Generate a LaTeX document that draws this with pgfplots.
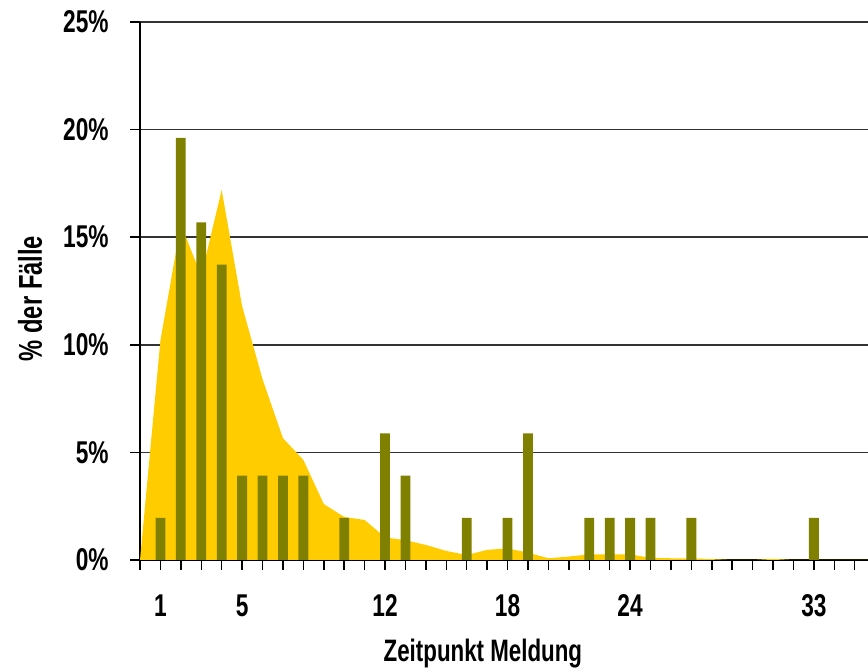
\documentclass[border=0pt]{standalone}
\usepackage{fontspec}
\setmainfont{Liberation Sans}[FakeStretch=0.72]
\usepackage{pgfplots}
\pgfplotsset{compat=1.18}
\definecolor{areayellow}{RGB}{255,204,0}
\definecolor{barolive}{RGB}{128,128,0}
\begin{document}
\begin{tikzpicture}
\useasboundingbox (-70pt,-56pt) rectangle (364pt,280pt);
\begin{axis}[
  at={(0,0)}, anchor=south west,
  scale only axis, width=364pt, height=269pt,
  xmin=0, xmax=35.65, ymin=0, ymax=25,
  axis lines*=left,
  axis line style={black, line width=1pt},
  xtick={1,5,12,18,24,33},
  xticklabels={1,5,12,18,24,33},
  minor xtick={0,...,35},
  ytick={0,5,10,15,20,25},
  yticklabels={0\%,5\%,10\%,15\%,20\%,25\%},
  tick align=outside,
  major tick length=5pt, minor tick length=5pt,
  every tick/.style={black, line width=0.75pt},
  ymajorgrids,
  major grid style={black!80, line width=0.75pt},
  tick label style={font=\bfseries\fontsize{15.75}{16}\selectfont},
  yticklabel style={anchor=east, inner sep=0pt, xshift=-10.5pt},
  xticklabel style={anchor=north, inner sep=0pt, yshift=-12pt},
  xlabel={Zeitpunkt Meldung},
  ylabel={\% der Fälle},
  xlabel style={font=\bfseries\fontsize{15.5}{16}\selectfont, at={([yshift=-47pt]rel axis cs:0.471,0)}, anchor=center},
  ylabel style={font=\bfseries\fontsize{16.5}{17}\selectfont, at={([xshift=-55pt]rel axis cs:0,0.486)}, anchor=center},
  clip=false,
]
\addplot[fill=areayellow, draw=none] coordinates {
 (0,0) (1,10.2) (2,15.6) (3,13.2) (4,17.2) (5,11.8) (6,8.4) (7,5.66) (8,4.65)
 (9,2.6) (10,2.0) (11,1.86) (12,1.05) (13,0.92) (14,0.7) (15,0.42) (16,0.23)
 (17,0.47) (18,0.54) (19,0.34) (20,0.08) (21,0.16) (22,0.26) (23,0.26) (24,0.26)
 (25,0.1) (26,0.08) (27,0.08) (28,0.04) (29,0) (30,0) (31,0.05) (32,0) (33,0)
 (34,0) (35,0) (35.65,0)
} \closedcycle;
\addplot[ybar, bar width=0.48, fill=barolive, draw=none] coordinates {
 (1,1.96) (2,19.61) (3,15.69) (4,13.73) (5,3.92) (6,3.92) (7,3.92) (8,3.92)
 (10,1.96) (12,5.88) (13,3.92) (16,1.96) (18,1.96) (19,5.88) (22,1.96)
 (23,1.96) (24,1.96) (25,1.96) (27,1.96) (33,1.96)
};
\end{axis}
\end{tikzpicture}
\end{document}
